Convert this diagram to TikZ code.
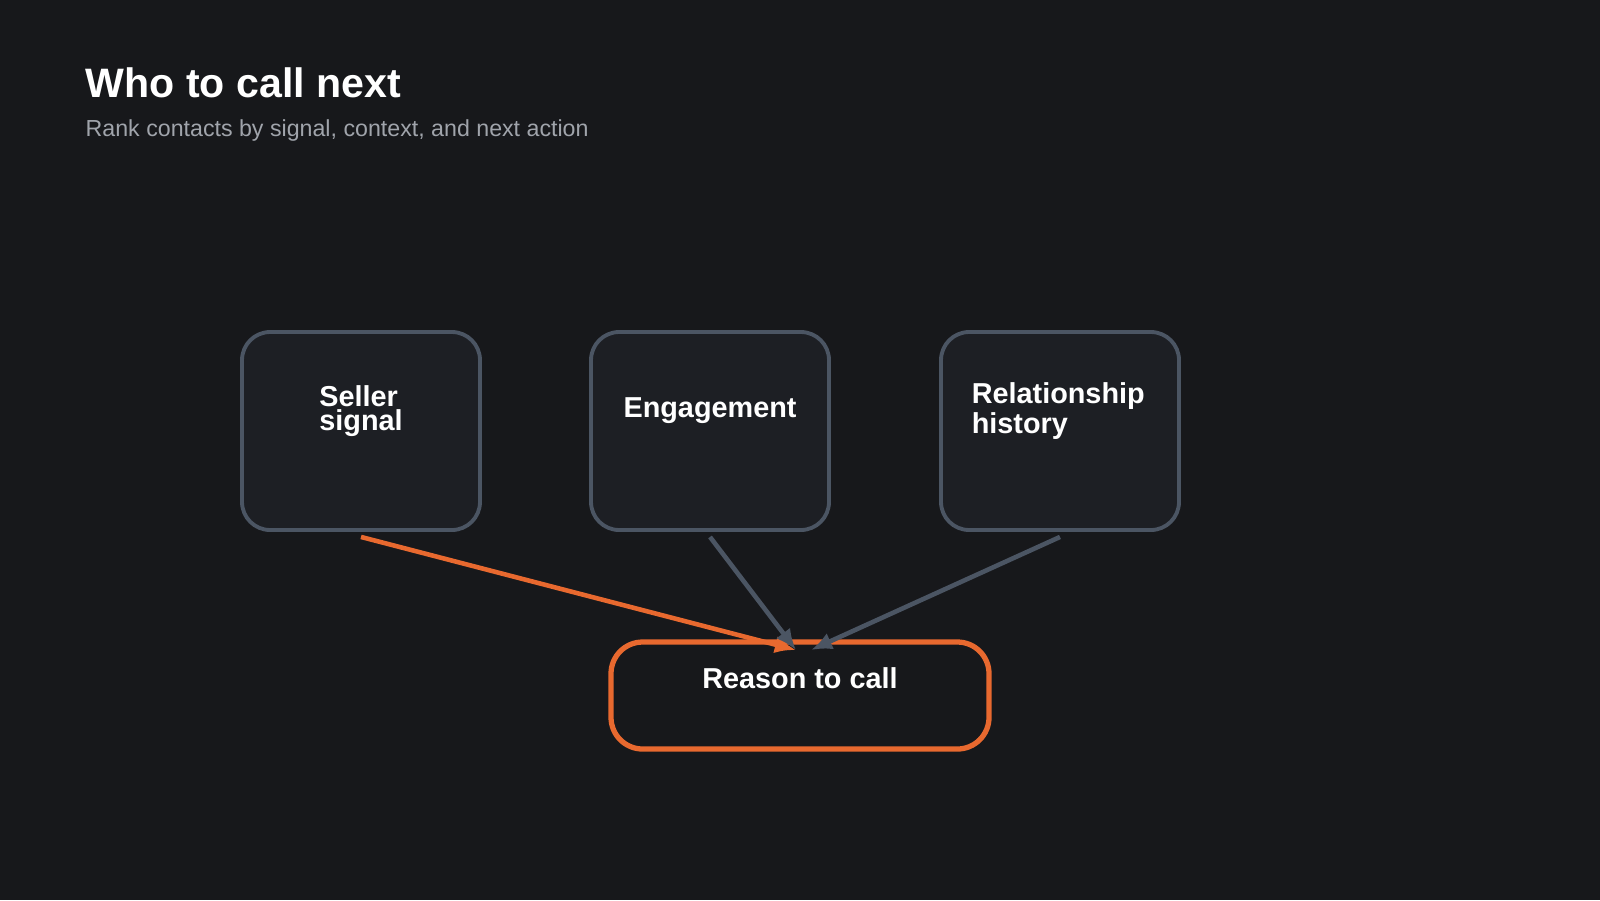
\documentclass[tikz,border=0pt]{standalone}
\usepackage{fontspec}
\setmainfont{Liberation Sans}
\usetikzlibrary{arrows.meta,positioning}
\definecolor{bgdark}{HTML}{17181B}
\definecolor{boxfill}{HTML}{1D1F24}
\definecolor{boxline}{HTML}{4B5563}
\definecolor{accent}{HTML}{E8692F}
\definecolor{subgray}{HTML}{A0A4AB}
\tikzset{
  card/.style={draw=boxline,line width=1.1pt,fill=boxfill,rounded corners=8pt,
    minimum width=2.38cm,minimum height=1.98cm,inner sep=0pt},
  target/.style={draw=accent,line width=1.5pt,fill=bgdark,rounded corners=9pt,
    minimum width=3.78cm,minimum height=1.07cm,inner sep=0pt},
  cardtext/.style={text=white,font=\fontsize{8.2}{7}\selectfont\bfseries,inner sep=0pt},
  link/.style={draw=boxline,line width=1.3pt,-{Latex[length=6pt,width=5pt]}},
  hotlink/.style={draw=accent,line width=1.3pt,-{Latex[length=6pt,width=5pt]}}
}
\begin{document}
\begin{tikzpicture}
  \fill[bgdark] (0,0) rectangle (16,-9);
  \useasboundingbox (0,0) rectangle (16,-9);

  % heading
  \node[anchor=base west,inner sep=0pt,text=white,font=\fontsize{11.7}{14}\selectfont\bfseries] (title) at (0.85,-0.97) {Who to call next};
  \node[anchor=base west,inner sep=0pt,text=subgray,font=\fontsize{6.6}{8}\selectfont] (subtitle) at (0.85,-1.36) {Rank contacts by signal, context, and next action};

  % input cards
  \node[card] (seller) at (3.61,-4.31) {};
  \node[card] (engage) at (7.10,-4.31) {};
  \node[card] (relation) at (10.60,-4.31) {};
  \node[cardtext,align=left] (sellerlbl) at ([yshift=-0.81cm]seller.north) {Seller\\signal};
  \node[cardtext] (engagelbl) at ([yshift=-0.81cm]engage.north) {Engagement};
  \node[cardtext,align=left,anchor=west] (relationlbl) at ([xshift=0.32cm,yshift=-0.81cm]relation.north west) {Relationship\\history};

  % output
  \node[target] (reason) at (8.00,-6.955) {};
  \node[cardtext] (reasonlbl) at ([yshift=-0.39cm]reason.north) {Reason to call};

  \coordinate (inA) at (7.96,-6.50);
  \coordinate (inB) at (8.11,-6.50);
  \draw[hotlink] ([yshift=-0.05cm]seller.south) -- (inA);
  \draw[link] ([yshift=-0.05cm]engage.south) -- (inA);
  \draw[link] ([yshift=-0.05cm]relation.south) -- (inB);
\end{tikzpicture}
\end{document}
